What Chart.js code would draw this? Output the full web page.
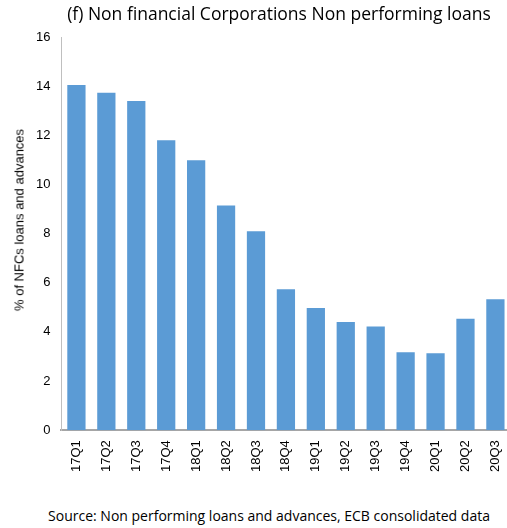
<!DOCTYPE html>
<html>
<head>
<meta charset="utf-8">
<script src="https://cdn.jsdelivr.net/npm/chart.js@4"></script>
<style>
    body { margin: 0; background: #fff; }
    #wrap { position: relative; width: 507px; height: 528px; overflow: hidden; }
    #title { position: absolute; top: 1px; left: 56px; width: 446px; text-align: center;
             font-family: "Open Sans", sans-serif; font-size: 17.5px; color: #000; white-space: nowrap; }
    #ytitle { position: absolute; left: 19px; top: 220px; transform: translate(-50%, -50%) rotate(-90deg);
              font-family: "Liberation Sans", Arial, sans-serif; font-size: 13px; color: #000; white-space: nowrap; }
    #source { position: absolute; top: 506px; left: 0; width: 538px; text-align: center;
              font-family: "Open Sans", sans-serif; font-size: 14px; color: #000; white-space: nowrap; }
    #chart { position: absolute; left: 0; top: 0; }
</style>
</head>
<body>
<div id="wrap">
    <canvas id="chart" width="521" height="482"></canvas>
    <div id="title">(f) Non financial Corporations Non performing loans</div>
    <div id="ytitle">% of NFCs loans and advances</div>
    <div id="source">Source: Non performing loans and advances, ECB consolidated data</div>
</div>
<script>
// Data
const quarters = ['17Q1', '17Q2', '17Q3', '17Q4', '18Q1', '18Q2', '18Q3', '18Q4',
                  '19Q1', '19Q2', '19Q3', '19Q4', '20Q1', '20Q2', '20Q3'];
const nplRatio = [14.05, 13.73, 13.4, 11.8, 10.98, 9.14, 8.1, 5.74,
                  4.97, 4.4, 4.22, 3.17, 3.13, 4.54, 5.33];
const yTicks = [0, 2, 4, 6, 8, 10, 12, 14, 16];

const tickFont = { family: 'Liberation Sans, Arial, sans-serif', size: 13 };

const ctx = document.getElementById('chart').getContext('2d');
new Chart(ctx, {
    type: 'bar',
    data: {
        labels: quarters,
        datasets: [{
            data: nplRatio,
            backgroundColor: '#5b9bd5',
            borderWidth: 0,
            barPercentage: 0.61,
            categoryPercentage: 1.0
        }]
    },
    options: {
        responsive: false,
        animation: false,
        layout: { padding: { top: 37, right: 0, left: 25, bottom: 0 } },
        plugins: {
            legend: { display: false },
            tooltip: { enabled: false }
        },
        scales: {
            x: {
                grid: { display: false, drawTicks: false },
                border: { color: '#a6a6a6', width: 2 },
                ticks: {
                    color: '#000',
                    font: tickFont,
                    minRotation: 90,
                    maxRotation: 90,
                    padding: 10
                }
            },
            y: {
                min: 0,
                max: 16,
                afterBuildTicks: axis => { axis.ticks = yTicks.map(v => ({ value: v })); },
                grid: { display: false, drawTicks: false },
                border: { color: '#bfbfbf', width: 1 },
                ticks: { color: '#000', font: tickFont, padding: 11 }
            }
        }
    }
});
</script>
</body>
</html>
